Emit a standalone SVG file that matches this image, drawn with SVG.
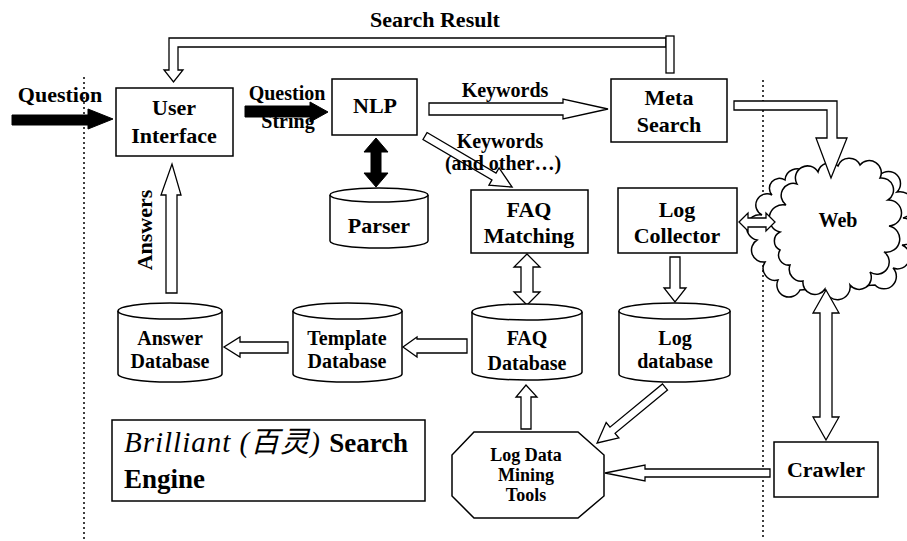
<svg xmlns="http://www.w3.org/2000/svg" width="907" height="541" viewBox="0 0 907 541">
  <style>
    .box { fill: #fff; stroke: #000; stroke-width: 1.5; }
    .hollow { fill: #fff; stroke: #000; stroke-width: 1.3; stroke-linejoin: miter; }
    .solid { fill: #000; stroke: #000; stroke-width: 1; }
    .divider { fill: none; stroke: #000; stroke-width: 1.5; stroke-dasharray: 2 3; }
    text { font-family: "Liberation Serif", "Times New Roman", serif; font-weight: bold; fill: #000; }
    .lbl { font-size: 22px; text-anchor: middle; }
    .db { font-size: 20px; text-anchor: middle; }
    .edge { font-size: 20px; text-anchor: middle; }
    .tool { font-size: 18px; text-anchor: middle; }
  </style>

  <rect width="907" height="541" fill="#fff"/>

  <!-- boundary lines -->
  <g id="dividers">
    <line class="divider" x1="84" y1="77" x2="84" y2="540"/>
    <line class="divider" x1="763" y1="80" x2="763" y2="540"/>
  </g>

  <!-- Web cloud -->
  <g id="web">
    <path class="box" d="M757,240 A10,10 0 0 1 762,215 A10,10 0 0 1 772,195 A10,10 0 0 1 785,180 A12,12 0 0 1 805,172 L880,175 A12,12 0 0 1 897,192 A12,12 0 0 1 903,218 A12,12 0 0 1 902,245 A12,12 0 0 1 893,268 A12,12 0 0 1 875,285 L800,290 A12,12 0 0 1 778,280 A12,12 0 0 1 765,262 A12,12 0 0 1 757,240 Z"/>
    <path class="box" d="M780,232 A12,12 0 0 1 786,205 A12,12 0 0 1 797,184 A12,12 0 0 1 818,172 A12,12 0 0 1 838,166 A12,12 0 0 1 860,165 A12,12 0 0 1 880,178 A12,12 0 0 1 888,200 A12,12 0 0 1 889,226 A12,12 0 0 1 884,252 A12,12 0 0 1 870,272 A12,12 0 0 1 850,285 A12,12 0 0 1 825,289 A12,12 0 0 1 803,281 A12,12 0 0 1 790,265 A10,10 0 0 1 780,250 A10,10 0 0 1 780,232 Z"/>
    <text class="edge" x="838" y="227">Web</text>
  </g>

  <!-- connectors -->
  <g id="connectors">
    <!-- search result back to the user interface -->
    <path class="hollow" d="M666,38 H169 V70 H164 L173.5,82 L183,70 H178 V47 H666 Z"/>
    <rect class="hollow" x="666" y="36" width="8" height="37"/>
    <text class="lbl" x="435" y="27">Search Result</text>

    <!-- incoming question -->
    <path class="solid" d="M12,115 H88 V109 L113,119 L88,129 V125 H12 Z"/>
    <text class="lbl" x="60" y="102">Question</text>

    <!-- question string to NLP -->
    <path class="solid" d="M245,106 H310 V102 L328,112 L310,122 V117 H245 Z"/>
    <text class="db" x="287" y="100">Question</text>
    <text class="db" x="288" y="128">String</text>

    <!-- NLP <-> Parser -->
    <path class="solid" d="M376,138 L388,152 L381,152 L381,173 L388,173 L376,187 L364,173 L371,173 L371,152 L364,152 Z"/>

    <!-- keywords to meta search -->
    <path class="hollow" d="M429,103 H563 V99 L608,109 L563,119 V115 H429 Z"/>
    <text class="edge" x="505" y="97">Keywords</text>

    <!-- keywords to FAQ matching -->
    <path class="hollow" transform="translate(425,136) rotate(30.4)" d="M0,-4 H80 V-10 L101,0 L80,10 V4 H0 Z"/>
    <text class="edge" x="500" y="148">Keywords</text>
    <text class="edge" x="503" y="170">(and other…)</text>

    <!-- meta search to web -->
    <path class="hollow" d="M734,101 H837 V138 H847 L831,178 L816,138 H827 V110 H734 Z"/>

    <!-- log collector <-> web -->
    <path class="hollow" d="M739,222 L748,213 L748,218 L766,218 L766,213 L775,222 L766,231 L766,227 L748,227 L748,231 Z"/>

    <!-- web <-> crawler -->
    <path class="hollow" d="M826,290 L839,313 L832,313 L832,417 L839,417 L826,440 L813,417 L820,417 L820,313 L813,313 Z"/>

    <!-- crawler to mining tools -->
    <path class="hollow" d="M605,473 L645,465 L645,469 L770,469 L770,477 L645,477 L645,481 Z"/>

    <!-- mining tools to FAQ database -->
    <path class="hollow" d="M521,429 V397 H516 L526,385 L537,397 H531 V429 Z"/>

    <!-- log database to mining tools -->
    <path class="hollow" transform="translate(665,387) rotate(140.5)" d="M0,-4 H68 V-10 L88,0 L68,10 V4 H0 Z"/>

    <!-- FAQ matching <-> FAQ database -->
    <path class="hollow" d="M527,254 L540,267 L533,267 L533,292 L540,292 L527,305 L514,292 L521,292 L521,267 L514,267 Z"/>

    <!-- log collector to log database -->
    <path class="hollow" d="M670,257 H680 V288 H686 L675,302 L664,288 H670 Z"/>

    <!-- FAQ database to template database -->
    <path class="hollow" d="M467,339 V353 H417 V357 L403,347 L417,337 V339 Z"/>

    <!-- template database to answer database -->
    <path class="hollow" d="M288,342 V353 H240 V357 L224,347 L240,337 V342 Z"/>

    <!-- answers up to user interface -->
    <path class="hollow" d="M166,293 V195 H161 L172,164 L181,195 H177 V293 Z"/>
    <text class="lbl" transform="translate(152,230) rotate(-90)" x="0" y="0">Answers</text>
  </g>

  <!-- nodes -->
  <g id="user-interface">
    <rect class="box" x="116" y="88" width="117" height="68"/>
    <text class="lbl" x="174" y="115">User</text>
    <text class="lbl" x="174" y="143">Interface</text>
  </g>

  <g id="nlp">
    <rect class="box" x="332" y="79" width="85" height="56"/>
    <text class="lbl" x="375" y="113">NLP</text>
  </g>

  <g id="meta-search">
    <rect class="box" x="611" y="79" width="116" height="63"/>
    <text class="lbl" x="669" y="105">Meta</text>
    <text class="lbl" x="669" y="132">Search</text>
  </g>

  <g id="parser">
    <path class="box" d="M330,195 V241 A49,7 0 0 0 428,241 V195"/>
    <ellipse class="box" cx="379" cy="195" rx="49" ry="7"/>
    <text class="lbl" x="379" y="233">Parser</text>
  </g>

  <g id="faq-matching">
    <rect class="box" x="471" y="190" width="117" height="63"/>
    <text class="lbl" x="529" y="217">FAQ</text>
    <text class="lbl" x="529" y="243">Matching</text>
  </g>

  <g id="log-collector">
    <rect class="box" x="618" y="188" width="119" height="65"/>
    <text class="lbl" x="677" y="217">Log</text>
    <text class="lbl" x="677" y="243">Collector</text>
  </g>

  <g id="answer-database">
    <path class="box" d="M118,311 V374 A52,8 0 0 0 222,374 V311"/>
    <ellipse class="box" cx="170" cy="311" rx="52" ry="8"/>
    <text class="db" x="170" y="345">Answer</text>
    <text class="db" x="170" y="368">Database</text>
  </g>

  <g id="template-database">
    <path class="box" d="M293,311 V374 A54.5,8 0 0 0 402,374 V311"/>
    <ellipse class="box" cx="347.5" cy="311" rx="54.5" ry="8"/>
    <text class="db" x="347" y="345">Template</text>
    <text class="db" x="347" y="368">Database</text>
  </g>

  <g id="faq-database">
    <path class="box" d="M472,312 V372 A55,8 0 0 0 582,372 V312"/>
    <ellipse class="box" cx="527" cy="312" rx="55" ry="8"/>
    <text class="db" x="527" y="345">FAQ</text>
    <text class="db" x="527" y="370">Database</text>
  </g>

  <g id="log-database">
    <path class="box" d="M619,311 V374 A55.5,8 0 0 0 730,374 V311"/>
    <ellipse class="box" cx="674.5" cy="311" rx="55.5" ry="8"/>
    <text class="db" x="675" y="345">Log</text>
    <text class="db" x="675" y="368">database</text>
  </g>

  <g id="log-data-mining-tools">
    <polygon class="box" points="474,432 578,432 604,455 604,496 578,518 474,518 452,496 452,455"/>
    <text class="tool" x="526" y="461">Log Data</text>
    <text class="tool" x="526" y="481">Mining</text>
    <text class="tool" x="526" y="501">Tools</text>
  </g>

  <g id="crawler">
    <rect class="box" x="774" y="442" width="104" height="55"/>
    <text class="lbl" x="826" y="477">Crawler</text>
  </g>

  <g id="title">
    <rect class="box" x="112" y="420" width="313" height="81"/>
    <text x="124" y="452" font-size="27"><tspan font-style="italic" font-weight="normal" font-size="29" letter-spacing="1">Brilliant (<tspan font-family="'Liberation Serif', 'Noto Sans CJK SC', serif">百灵</tspan>) </tspan>Search</text>
    <text x="124" y="488" font-size="27">Engine</text>
  </g>
</svg>
